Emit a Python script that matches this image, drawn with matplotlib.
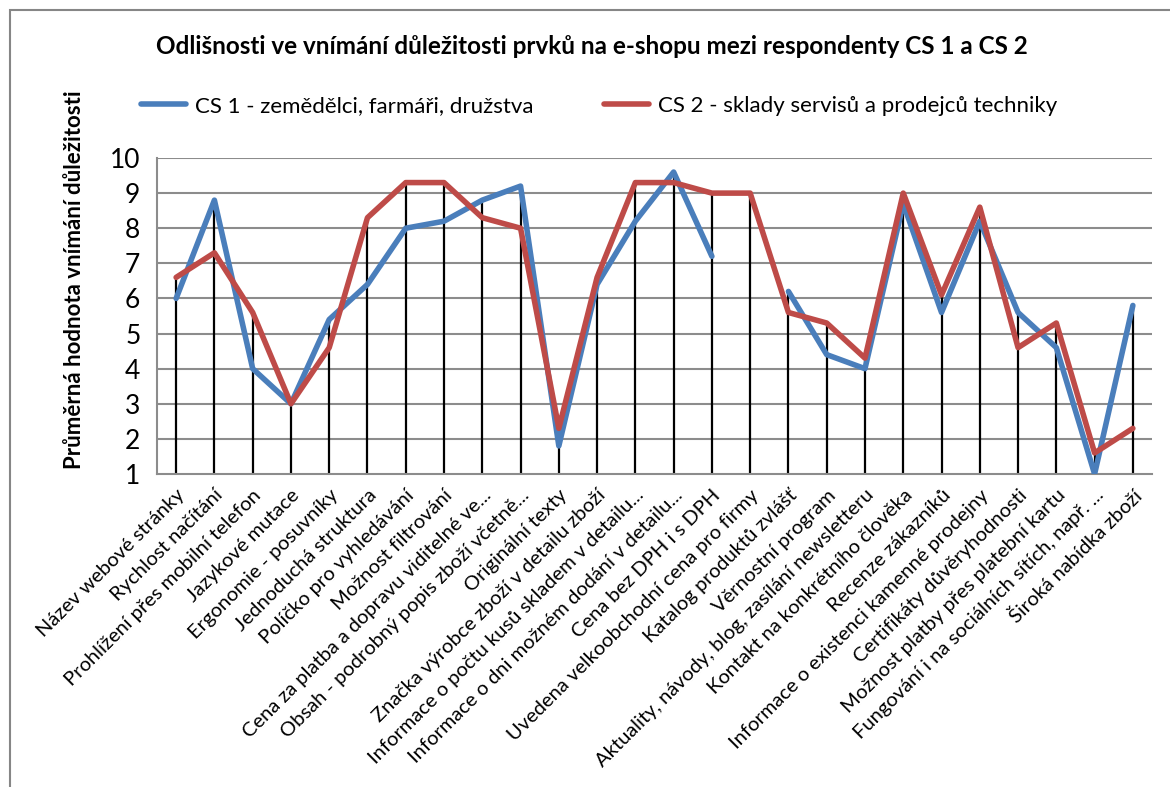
import numpy as np
import matplotlib
matplotlib.use("Agg")
import matplotlib.pyplot as plt
from matplotlib.patches import Rectangle

plt.rcParams['font.family'] = ['Lato', 'DejaVu Sans']

categories = [
    "Název webové stránky",
    "Rychlost načítání",
    "Prohlížení přes mobilní telefon",
    "Jazykové mutace",
    "Ergonomie - posuvníky",
    "Jednoduchá struktura",
    "Políčko pro vyhledávání",
    "Možnost filtrování",
    "Cena za platba a dopravu viditelné ve...",
    "Obsah - podrobný popis zboží včetně...",
    "Originální texty",
    "Značka výrobce zboží v detailu zboží",
    "Informace o počtu kusů skladem v detailu...",
    "Informace o dni možném dodání v detailu...",
    "Cena bez DPH i s DPH",
    "Uvedena velkoobchodní cena pro firmy",
    "Katalog produktů zvlášť",
    "Věrnostní program",
    "Aktuality, návody, blog, zasílání newsletteru",
    "Kontakt na konkrétního člověka",
    "Recenze zákazníků",
    "Informace o existenci kamenné prodejny",
    "Certifikáty důvěryhodnosti",
    "Možnost platby přes platební kartu",
    "Fungování i na sociálních sítích, např. ...",
    "Široká nabídka zboží",
]

# CS 1 nemá hodnotu u "Uvedena velkoobchodní cena pro firmy"
cs1 = [6.0, 8.8, 4.0, 3.0, 5.4, 6.4, 8.0, 8.2, 8.8, 9.2, 1.8, 6.4, 8.2,
       9.6, 7.2, np.nan, 6.2, 4.4, 4.0, 8.7, 5.6, 8.2, 5.6, 4.6, 1.0, 5.8]
cs2 = [6.6, 7.3, 5.6, 3.0, 4.6, 8.3, 9.3, 9.3, 8.3, 8.0, 2.3, 6.6, 9.3,
       9.3, 9.0, 9.0, 5.6, 5.3, 4.3, 9.0, 6.1, 8.6, 4.6, 5.3, 1.6, 2.3]

label_cs1 = "CS 1 - zemědělci, farmáři, družstva"
label_cs2 = "CS 2 - sklady servisů a prodejců techniky"

x = np.arange(len(categories))
top = np.nanmax(np.vstack([cs1, cs2]), axis=0)

fig = plt.figure(figsize=(11.7, 7.87), dpi=100)
ax = fig.add_axes([157/1170, 1 - 474/787, (1152 - 157)/1170, (474 - 158)/787])

# rámeček grafu
fig.patches.append(Rectangle((10/1170, -0.1), 1.2, 1.1 - 10/787,
                             transform=fig.transFigure, fill=False,
                             edgecolor='#868686', linewidth=1.5))

ax.set_ylim(1, 10)
ax.set_xlim(-0.5, len(categories) - 0.5)
ax.set_yticks(range(1, 11))
for v in range(2, 11):
    ax.axhline(v, color='#8c8c8c', linewidth=1.5, zorder=1)

# svislé spojnice k ose
ax.vlines(x, 1, top, color='black', linewidth=1.6, zorder=2)

ax.plot(x, cs1, color='#4a7ebb', linewidth=4, label=label_cs1, zorder=3,
        solid_joinstyle='round', solid_capstyle='round')
ax.plot(x, cs2, color='#be4b48', linewidth=4, label=label_cs2, zorder=4,
        solid_joinstyle='round', solid_capstyle='round')

for s in ['top', 'right']:
    ax.spines[s].set_visible(False)
for s in ['left', 'bottom']:
    ax.spines[s].set_color('#8c8c8c')
    ax.spines[s].set_linewidth(1.5)

ax.tick_params(axis='y', length=0, labelsize=19, pad=12)
ax.tick_params(axis='x', length=0, pad=9)
ax.set_xticks(x)
ax.set_xticklabels(categories, rotation=45, ha='right', rotation_mode='anchor',
                   fontsize=14.5)

fig.text(592/1170, 1 - 47/787, "Odlišnosti ve vnímání důležitosti prvků na e-shopu mezi respondenty CS 1 a CS 2",
         ha='center', va='center', fontsize=17.5, fontweight='bold')
fig.text(75/1170, 1 - 280/787, "Průměrná hodnota vnímání důležitosti",
         rotation=90, ha='center', va='center', fontsize=16, fontweight='bold')

fig.legend(loc='center', bbox_to_anchor=(599/1170, 1 - 106/787), ncol=2,
           frameon=False, fontsize=16, handlelength=2.0, columnspacing=3.2,
           handletextpad=0.4)

fig.savefig("out.png", dpi=100)
